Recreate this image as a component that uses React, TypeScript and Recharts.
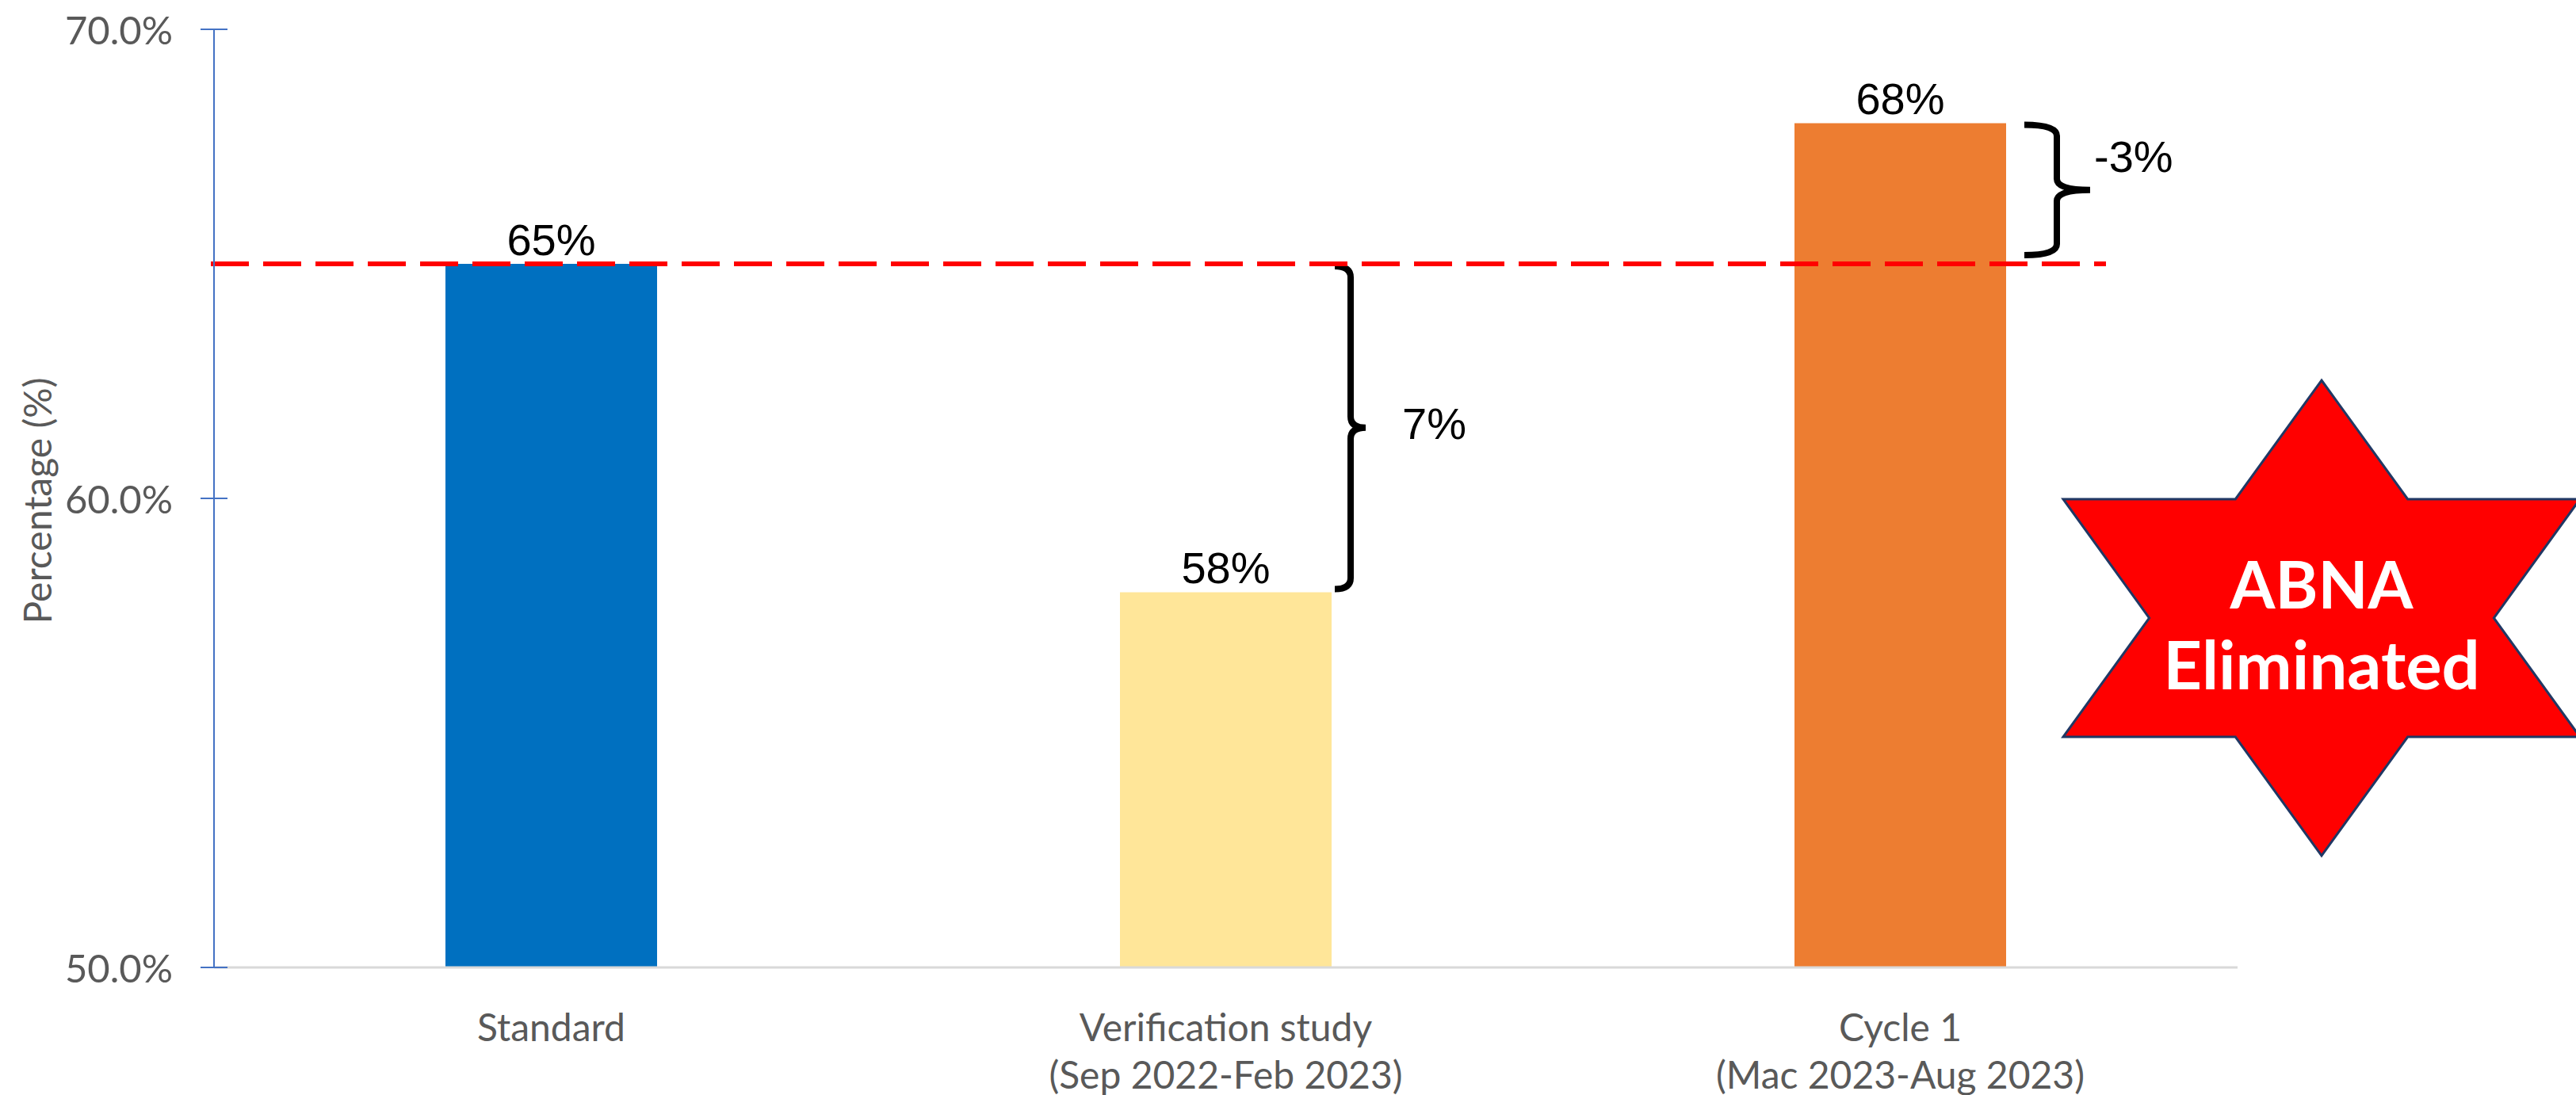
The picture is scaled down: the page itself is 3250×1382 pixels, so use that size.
import React from "react";
import {
  Bar,
  BarChart,
  Cell,
  LabelList,
  ReferenceArea,
  ReferenceLine,
  XAxis,
  YAxis,
} from "recharts";

const categories = ["Standard", "Verification study", "Cycle 1"];
const periods = ["", "(Sep 2022-Feb 2023)", "(Mac 2023-Aug 2023)"];
const values = [65, 58, 68];
const barColors = ["#0070C0", "#FFE699", "#ED7D31"];
const yTicks = [50, 60, 70];
const standardLevel = 65;
const gapLabels = ["7%", "-3%"];

const data = categories.map((name, i) => ({ name, value: values[i] }));

const W = 3250;
const H = 1382;
const BAR = 267;
const CALIBRI = "Lato, 'Open Sans', sans-serif";
const ARIAL = "'Liberation Sans', Arial, sans-serif";

function YTick(props: any) {
  const { x, y, payload } = props;
  return (
    <g>
      <line x1={x - 17} x2={x + 17} y1={y} y2={y} stroke="#4472C4" strokeWidth={2} />
      <text
        x={x - 52}
        y={y}
        textAnchor="end"
        dominantBaseline="central"
        fontFamily={CALIBRI}
        fontSize={49}
        fill="#595959"
      >
        {`${Number(payload.value).toFixed(1)}%`}
      </text>
    </g>
  );
}

function XTick(props: any) {
  const { x, y, payload } = props;
  const i = categories.indexOf(payload.value);
  return (
    <text textAnchor="middle" fontFamily={CALIBRI} fontSize={48} fill="#595959">
      <tspan x={x} y={y + 74} dominantBaseline="central">
        {payload.value}
      </tspan>
      {periods[i] ? (
        <tspan x={x} y={y + 134} dominantBaseline="central">
          {periods[i]}
        </tspan>
      ) : null}
    </text>
  );
}

function ValueLabel(props: any) {
  const { x, y, width, value } = props;
  return (
    <text
      x={x + width / 2}
      y={y - 11}
      textAnchor="middle"
      fontFamily={ARIAL}
      fontSize={56}
      fill="#000"
    >
      {`${value}%`}
    </text>
  );
}

// curly brace drawn to the right of a bar, spanning the reference area's height
function brace(opts: {
  lead: number;
  depth: number;
  tip: number;
  inTop: number;
  inBottom: number;
  text: string;
  textDx: number;
  textDy: number;
}) {
  return (props: any) => {
    const { x, y, width, height } = props;
    const cx = x + width / 2;
    const x0 = cx + BAR / 2 + opts.lead;
    const xl = x0 + opts.depth;
    const xt = xl + opts.tip;
    const top = y + opts.inTop;
    const bottom = y + height - opts.inBottom;
    const mid = (top + bottom) / 2;
    const r = 14;
    const d = [
      `M ${x0} ${top}`,
      `Q ${xl} ${top} ${xl} ${top + r}`,
      `L ${xl} ${mid - r}`,
      `Q ${xl} ${mid} ${xt} ${mid}`,
      `M ${xt} ${mid}`,
      `Q ${xl} ${mid} ${xl} ${mid + r}`,
      `L ${xl} ${bottom - r}`,
      `Q ${xl} ${bottom} ${x0} ${bottom}`,
    ].join(" ");
    return (
      <g>
        <path d={d} fill="none" stroke="#000" strokeWidth={8} strokeLinejoin="round" />
        <text
          x={xt + opts.textDx}
          y={mid + opts.textDy}
          dominantBaseline="central"
          fontFamily={ARIAL}
          fontSize={56}
          fill="#000"
        >
          {opts.text}
        </text>
      </g>
    );
  };
}

function StandardLine(props: any) {
  const { x1, y1, x2 } = props;
  return (
    <line
      x1={x1 - 4}
      x2={x2 - 166}
      y1={y1}
      y2={y1}
      stroke="#FF0000"
      strokeWidth={6}
      strokeDasharray="48 18"
    />
  );
}

function Star() {
  const cx = 2929;
  const cy = 780;
  const R = 300;
  const Wd = 326;
  const pts = [
    [cx, cy - R],
    [cx + Wd / 3, cy - R / 2],
    [cx + Wd, cy - R / 2],
    [cx + (2 * Wd) / 3, cy],
    [cx + Wd, cy + R / 2],
    [cx + Wd / 3, cy + R / 2],
    [cx, cy + R],
    [cx - Wd / 3, cy + R / 2],
    [cx - Wd, cy + R / 2],
    [cx - (2 * Wd) / 3, cy],
    [cx - Wd, cy - R / 2],
    [cx - Wd / 3, cy - R / 2],
  ]
    .map((p) => p.join(","))
    .join(" ");
  return (
    <g>
      <polygon points={pts} fill="#FF0000" stroke="#203864" strokeWidth={3} />
      <text
        x={cx}
        y={736}
        textAnchor="middle"
        dominantBaseline="central"
        fontFamily={CALIBRI}
        fontWeight={700}
        fontSize={82}
        fill="#fff"
      >
        ABNA
      </text>
      <text
        x={cx}
        y={837}
        textAnchor="middle"
        dominantBaseline="central"
        fontFamily={CALIBRI}
        fontWeight={700}
        fontSize={85}
        fill="#fff"
      >
        Eliminated
      </text>
    </g>
  );
}

export default function App() {
  return (
    <div style={{ position: "absolute", left: 0, top: 0, width: W, height: H, background: "#fff" }}>
      <BarChart
        width={W}
        height={H}
        data={data}
        margin={{ top: 37, right: 427, bottom: 0, left: 0 }}
        barSize={BAR}
      >
        <XAxis
          dataKey="name"
          height={161}
          axisLine={{ stroke: "#D9D9D9", strokeWidth: 3 }}
          tickLine={false}
          tickSize={0}
          tickMargin={0}
          tick={<XTick />}
          interval={0}
        />
        <YAxis
          width={270}
          domain={[50, 70]}
          ticks={yTicks}
          allowDataOverflow
          axisLine={{ stroke: "#4472C4", strokeWidth: 2 }}
          tickLine={false}
          tickSize={0}
          tickMargin={0}
          tick={<YTick />}
        />
        <Bar dataKey="value" isAnimationActive={false}>
          {data.map((d, i) => (
            <Cell key={d.name} fill={barColors[i]} />
          ))}
          <LabelList dataKey="value" content={<ValueLabel />} />
        </Bar>
        <ReferenceLine y={standardLevel} shape={StandardLine} />
        <ReferenceArea
          x1={categories[1]}
          x2={categories[1]}
          y1={values[1]}
          y2={standardLevel}
          shape={brace({ lead: 4, depth: 20, tip: 19, inTop: 3, inBottom: 4, text: gapLabels[0], textDx: 46, textDy: -5 })}
        />
        <ReferenceArea
          x1={categories[2]}
          x2={categories[2]}
          y1={standardLevel}
          y2={values[2]}
          shape={brace({ lead: 23, depth: 41, tip: 42, inTop: 2, inBottom: 11, text: gapLabels[1], textDx: 5, textDy: -42 })}
        />
      </BarChart>
      <svg
        width={W}
        height={H}
        style={{ position: "absolute", left: 0, top: 0, pointerEvents: "none" }}
      >
        <Star />
        <text
          transform="rotate(-90 46 632)"
          x={46}
          y={632}
          textAnchor="middle"
          dominantBaseline="central"
          fontFamily={CALIBRI}
          fontSize={48}
          fill="#595959"
        >
          Percentage (%)
        </text>
      </svg>
    </div>
  );
}
